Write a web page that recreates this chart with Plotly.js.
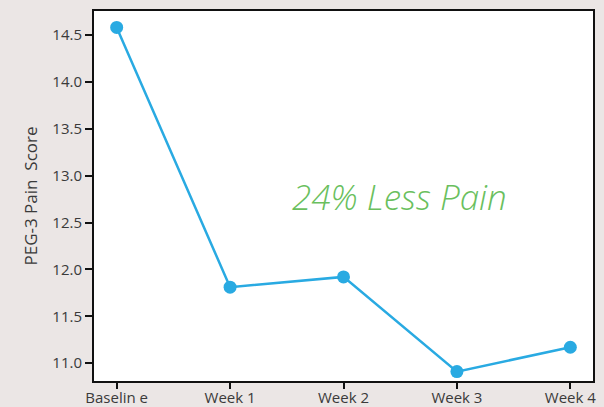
<!DOCTYPE html>
<html>
<head>
<meta charset="utf-8">
<script src="https://cdn.plot.ly/plotly-3.0.1.min.js"></script>
<style>html,body{margin:0;padding:0;background:#ebe6e5;}#chart{width:604px;height:407px;}</style>
</head>
<body>
<div id="chart"></div>
<script>
const categories = ["Baselin e", "Week 1", "Week 2", "Week 3", "Week 4"];
const painScores = [14.58, 11.81, 11.92, 10.91, 11.17];
const yTickVals = [11.0, 11.5, 12.0, 12.5, 13.0, 13.5, 14.0, 14.5];
const yTickText = ["11.0", "11.5", "12.0", "12.5", "13.0", "13.5", "14.0", "14.5"];
const annotationText = "24% Less Pain";

const trace = {
  x: categories,
  y: painScores,
  type: "scatter",
  mode: "lines+markers",
  line: {color: "#29aae2", width: 2.5},
  marker: {color: "#29aae2", size: 13},
  hoverinfo: "skip"
};

const layout = {
  width: 604, height: 407,
  margin: {l: 94, r: 11, t: 11, b: 26},
  paper_bgcolor: "#ebe6e5",
  plot_bgcolor: "#ffffff",
  showlegend: false,
  font: {family: "'Open Sans', Lato, sans-serif", color: "#3a3a3a", size: 15},
  xaxis: {
    type: "category",
    range: [-0.2, 4.2],
    showgrid: false, zeroline: false,
    showline: true, linecolor: "#111", linewidth: 2, mirror: true,
    ticks: "outside", ticklen: 6, tickwidth: 2, tickcolor: "#111",
    ticklabelstandoff: -4,
    tickfont: {size: 15, color: "#3a3a3a"}
  },
  yaxis: {
    range: [10.81, 14.755],
    tickvals: yTickVals, ticktext: yTickText,
    showgrid: false, zeroline: false,
    showline: true, linecolor: "#111", linewidth: 2, mirror: true,
    ticks: "outside", ticklen: 7, tickwidth: 2, tickcolor: "#111",
    tickfont: {size: 15, color: "#3a3a3a"},
    title: {text: "PEG-3 Pain\u00a0\u00a0Score", font: {size: 17, color: "#3a3a3a"}, standoff: 10}
  },
  annotations: [{
    text: annotationText,
    xref: "paper", yref: "paper",
    x: 0.613, y: 0.5, xanchor: "center", yanchor: "middle",
    showarrow: false,
    font: {family: "'Open Sans', Lato, sans-serif", size: 35, color: "#6abf5e", style: "italic", weight: 300}
  }]
};

Plotly.newPlot("chart", [trace], layout, {displayModeBar: false, staticPlot: true});
</script>
</body>
</html>
